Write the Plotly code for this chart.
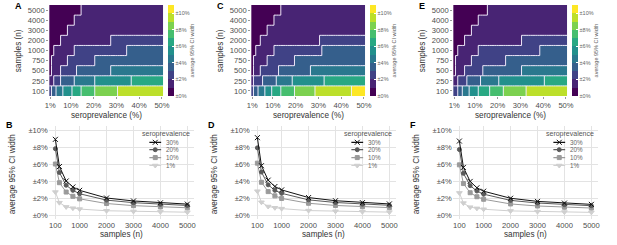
import plotly.graph_objects as go
import plotly.colors as pc

# ---------------- data ----------------
sample_rows = ['100', '250', '500', '750', '1000', '2000', '3000', '4000', '5000']
prevalence = list(range(1, 51))          # seroprevalence (%) columns of the heatmaps

# heatmap bands: each row = runs of (CI-width band k  -> width in [k-1, k) %, last seroprevalence %)
heat_A = [
    [(3, 1), (4, 3), (5, 6), (6, 10), (7, 14), (8, 20), (9, 30), (10, 50)],
    [(2, 2), (3, 5), (4, 11), (5, 20), (6, 36), (7, 50)],
    [(1, 1), (2, 5), (3, 12), (4, 27), (5, 50)],
    [(1, 1), (2, 8), (3, 20), (4, 50)],
    [(1, 2), (2, 11), (3, 34), (4, 50)],
    [(1, 5), (2, 27), (3, 50)],
    [(1, 8), (2, 50)],
    [(1, 11), (2, 50)],
    [(1, 14), (2, 50)],
]
heat_C = [
    [(3, 1), (4, 3), (5, 6), (6, 9), (7, 13), (8, 19), (9, 28), (10, 44), (11, 50)],
    [(2, 1), (3, 5), (4, 11), (5, 18), (6, 32), (7, 50)],
    [(1, 1), (2, 4), (3, 12), (4, 26), (5, 50)],
    [(1, 1), (2, 7), (3, 19), (4, 50)],
    [(1, 2), (2, 10), (3, 31), (4, 50)],
    [(1, 4), (2, 30), (3, 50)],
    [(1, 7), (2, 50)],
    [(1, 10), (2, 50)],
    [(1, 13), (2, 50)],
]
heat_E = [
    [(3, 2), (4, 4), (5, 7), (6, 11), (7, 16), (8, 22), (9, 32), (10, 50)],
    [(2, 2), (3, 6), (4, 12), (5, 20), (6, 40), (7, 50)],
    [(1, 1), (2, 5), (3, 13), (4, 30), (5, 50)],
    [(1, 1), (2, 8), (3, 23), (4, 50)],
    [(1, 2), (2, 11), (3, 38), (4, 50)],
    [(1, 5), (2, 30), (3, 50)],
    [(1, 8), (2, 50)],
    [(1, 11), (2, 50)],
    [(1, 15), (2, 50)],
]

samples = [100, 250, 500, 750, 1000, 2000, 3000, 4000, 5000]
series_names = ['30%', '20%', '10%', '1%']
B_30 = [8.9, 5.7, 4.0, 3.3, 2.9, 2.0, 1.65, 1.43, 1.28]
B_20 = [7.8, 5.0, 3.5, 2.9, 2.5, 1.75, 1.45, 1.25, 1.12]
B_10 = [6.0, 3.8, 2.7, 2.2, 1.9, 1.35, 1.1, 0.95, 0.85]
B_01 = [2.7, 1.45, 0.95, 0.8, 0.7, 0.5, 0.42, 0.37, 0.33]
D_30 = [9.1, 5.8, 4.1, 3.35, 2.95, 2.05, 1.68, 1.45, 1.3]
D_20 = [7.9, 5.05, 3.55, 2.9, 2.55, 1.78, 1.47, 1.27, 1.14]
D_10 = [6.1, 3.85, 2.75, 2.25, 1.95, 1.38, 1.12, 0.97, 0.87]
D_01 = [2.8, 1.5, 1.0, 0.85, 0.75, 0.52, 0.44, 0.38, 0.34]
F_30 = [8.7, 5.6, 3.95, 3.2, 2.8, 1.97, 1.6, 1.4, 1.25]
F_20 = [7.7, 4.9, 3.45, 2.82, 2.45, 1.72, 1.41, 1.22, 1.09]
F_10 = [5.9, 3.7, 2.62, 2.15, 1.85, 1.3, 1.06, 0.92, 0.82]
F_01 = [2.6, 1.4, 0.92, 0.78, 0.68, 0.48, 0.4, 0.35, 0.31]

cbar_ticks = [0, 2, 4, 6, 8, 10]
cbar_labels = ['±0%', '±2%', '±4%', '±6%', '±8%', '±10%']
x_heat_ticks = [1, 10, 20, 30, 40, 50]
x_heat_labels = ['1%', '10%', '20%', '30%', '40%', '50%']
x_line_ticks = [100, 1000, 2000, 3000, 4000, 5000]
y_line_ticks = [0, 2, 4, 6, 8, 10]
y_line_labels = ['±0%', '±2%', '±4%', '±6%', '±8%', '±10%']

# ---------------- styling / layout helpers ----------------
W, H = 617, 245
COL = 205.67
FONT = 'Liberation Sans, Arial, Helvetica, sans-serif'
TICK_C = '#4d4d4d'
TITLE_C = '#333333'
TICK_FS = 7.6
TITLE_FS = 8.2
NB = 11
cols = pc.sample_colorscale('Viridis', [i / (NB - 1) for i in range(NB)])
cscale = []
for i, c in enumerate(cols):
    cscale.append([i / NB, c])
    cscale.append([(i + 1) / NB, c])

styles = {
    '30%': dict(color='#111111', symbol='x-thin', size=5),
    '20%': dict(color='#5a5a5a', symbol='circle', size=4),
    '10%': dict(color='#9a9a9a', symbol='square', size=4),
    '1%': dict(color='#cfcfcf', symbol='triangle-down', size=5),
}


def fx(px):
    return px / W


def fy(py):
    return 1 - py / H


def expand(runs):
    row = []
    for band, last in runs:
        while len(row) < last:
            row.append(band)
    return row


fig = go.Figure()
annotations = []
layout = {}

heat_sets = [heat_A, heat_C, heat_E]
line_sets = [[D for D in (B_30, B_20, B_10, B_01)],
             [D for D in (D_30, D_20, D_10, D_01)],
             [D for D in (F_30, F_20, F_10, F_01)]]
top_letters = ['A', 'C', 'E']
bot_letters = ['B', 'D', 'F']

for j in range(3):
    off = j * COL
    # ---------- heatmap ----------
    ax = '' if j == 0 else str(j + 1)
    bands = [expand(r) for r in heat_sets[j]]
    z = [[b - 0.5 for b in row] for row in bands]
    fig.add_trace(go.Heatmap(
        x=prevalence, y=list(range(len(sample_rows))), z=z,
        zmin=0, zmax=NB, colorscale=cscale, xaxis='x' + ax, yaxis='y' + ax,
        hoverinfo='skip',
        colorbar=dict(
            x=fx(167 + off), xanchor='left', y=fy(50.5), yanchor='middle',
            len=91, lenmode='pixels', thickness=6, thicknessmode='pixels',
            xpad=0, ypad=0, outlinewidth=0,
            tickvals=cbar_ticks, ticktext=cbar_labels,
            ticks='inside', ticklen=2, tickcolor='white', tickwidth=1,
            tickfont=dict(size=5.5, color='#666', family=FONT),
            title=dict(text='average 95% CI width', side='right',
                       font=dict(size=5.5, color='#666', family=FONT)),
        ),
    ))
    # white boundaries between bands, derived from the band grid
    lx, ly = [], []
    nr, nc = len(bands), len(prevalence)
    for r in range(nr):
        for c in range(nc - 1):
            if bands[r][c] != bands[r][c + 1]:
                xm = (prevalence[c] + prevalence[c + 1]) / 2
                lx += [xm, xm, None]
                ly += [r - 0.5, r + 0.5, None]
    for r in range(nr - 1):
        for c in range(nc):
            if bands[r][c] != bands[r + 1][c]:
                lx += [prevalence[c] - 0.5, prevalence[c] + 0.5, None]
                ly += [r + 0.5, r + 0.5, None]
    fig.add_trace(go.Scatter(x=lx, y=ly, mode='lines', xaxis='x' + ax, yaxis='y' + ax,
                             line=dict(color='rgba(245,240,255,0.95)', width=1),
                             hoverinfo='skip', showlegend=False))
    layout['xaxis' + ax] = dict(
        domain=[fx(46 + off), fx(162 + off)], range=[0.5, 50.5], anchor='y' + ax,
        tickvals=x_heat_ticks, ticktext=x_heat_labels, showgrid=False, zeroline=False,
        ticks='outside', ticklen=2, tickcolor='#999', tickwidth=0.6,
        tickfont=dict(size=TICK_FS, color=TICK_C, family=FONT), fixedrange=True)
    layout['yaxis' + ax] = dict(
        domain=[fy(96), fy(5)], range=[-0.5, len(sample_rows) - 0.5], anchor='x' + ax,
        tickvals=list(range(len(sample_rows))), ticktext=sample_rows,
        showgrid=False, zeroline=False,
        ticks='outside', ticklen=2, tickcolor='#999', tickwidth=0.6,
        tickfont=dict(size=TICK_FS, color=TICK_C, family=FONT), fixedrange=True)
    annotations += [
        dict(text='samples (n)', x=fx(15 + off), y=fy(50.5), textangle=-90,
             font=dict(size=TITLE_FS, color=TITLE_C, family=FONT)),
        dict(text='seroprevalence (%)', x=fx(104 + off), y=fy(115.5),
             font=dict(size=TITLE_FS, color=TITLE_C, family=FONT)),
        dict(text='<b>%s</b>' % top_letters[j], x=fx(14.5 + off), y=fy(6),
             font=dict(size=9, color='black', family=FONT)),
    ]

    # ---------- line chart ----------
    lax = str(j + 4)
    gax = str(j + 7)
    x0, x1, y0, y1 = 45.6 + off, 193.4 + off, 125.75, 219.25
    for name, vals in reversed(list(zip(series_names, line_sets[j]))):
        st = styles[name]
        fig.add_trace(go.Scatter(
            x=samples, y=vals, mode='lines+markers', xaxis='x' + lax, yaxis='y' + lax,
            line=dict(color=st['color'], width=1),
            marker=dict(symbol=st['symbol'], size=st['size'], color=st['color'],
                        line=dict(color=st['color'], width=1)),
            showlegend=False, hoverinfo='skip'))
    layout['xaxis' + lax] = dict(
        domain=[fx(x0), fx(x1)], range=[-145, 5245], anchor='y' + lax,
        tickvals=x_line_ticks, showgrid=True, gridcolor='#e3e3e3', gridwidth=0.8,
        zeroline=False, showline=False, ticks='',
        tickfont=dict(size=TICK_FS, color=TICK_C, family=FONT), fixedrange=True)
    layout['yaxis' + lax] = dict(
        domain=[fy(y1), fy(y0)], range=[-0.5, 10.5], anchor='x' + lax,
        tickvals=y_line_ticks, ticktext=y_line_labels, showgrid=True,
        gridcolor='#e3e3e3', gridwidth=0.8, zeroline=False, showline=False, ticks='',
        tickfont=dict(size=TICK_FS, color=TICK_C, family=FONT), fixedrange=True)
    # manual legend (glyphs on an overlay 0-1 axis)
    layout['xaxis' + gax] = dict(overlaying='x' + lax, range=[0, 1], visible=False,
                                 anchor='y' + gax, fixedrange=True)
    layout['yaxis' + gax] = dict(overlaying='y' + lax, range=[0, 1], visible=False,
                                 anchor='x' + gax, fixedrange=True)
    leg_rows = [142.3, 149.7, 157.6, 165.5]
    for name, py in zip(series_names, leg_rows):
        st = styles[name]
        u0 = (148 + off - x0) / (x1 - x0)
        u1 = (160 + off - x0) / (x1 - x0)
        v = (y1 - py) / (y1 - y0)
        fig.add_trace(go.Scatter(
            x=[u0, (u0 + u1) / 2, u1], y=[v, v, v], mode='lines', xaxis='x' + gax,
            yaxis='y' + gax, line=dict(color=st['color'], width=1.2),
            showlegend=False, hoverinfo='skip'))
        fig.add_trace(go.Scatter(
            x=[(u0 + u1) / 2], y=[v], mode='markers', xaxis='x' + gax, yaxis='y' + gax,
            marker=dict(symbol=st['symbol'], size=st['size'], color=st['color'],
                        line=dict(color=st['color'], width=1)),
            showlegend=False, hoverinfo='skip'))
        annotations.append(dict(text=name, x=fx(163 + off), y=fy(py), xanchor='left',
                                font=dict(size=6.3, color='#666', family=FONT)))
    annotations += [
        dict(text='seroprevalence', x=fx(138 + off), y=fy(134), xanchor='left',
             font=dict(size=7, color='#555', family=FONT)),
        dict(text='average 95% CI width', x=fx(8.5 + off), y=fy(174), textangle=-90,
             font=dict(size=TITLE_FS, color=TITLE_C, family=FONT)),
        dict(text='samples (n)', x=fx(119.5 + off), y=fy(234.5),
             font=dict(size=TITLE_FS, color=TITLE_C, family=FONT)),
        dict(text='<b>%s</b>' % bot_letters[j], x=fx(5.5 + off), y=fy(125),
             font=dict(size=9, color='black', family=FONT)),
    ]

for a in annotations:
    a.setdefault('xref', 'paper')
    a.setdefault('yref', 'paper')
    a.setdefault('showarrow', False)
    a.setdefault('xanchor', 'center')
    a.setdefault('yanchor', 'middle')

fig.update_layout(
    width=W, height=H, margin=dict(l=0, r=0, t=0, b=0),
    paper_bgcolor='white', plot_bgcolor='white', showlegend=False,
    font=dict(family=FONT, color=TICK_C), annotations=annotations, **layout)

fig.write_html('out.html', config={'displayModeBar': False},
               post_script="document.body.style.margin='0';document.body.style.overflow='hidden';")
